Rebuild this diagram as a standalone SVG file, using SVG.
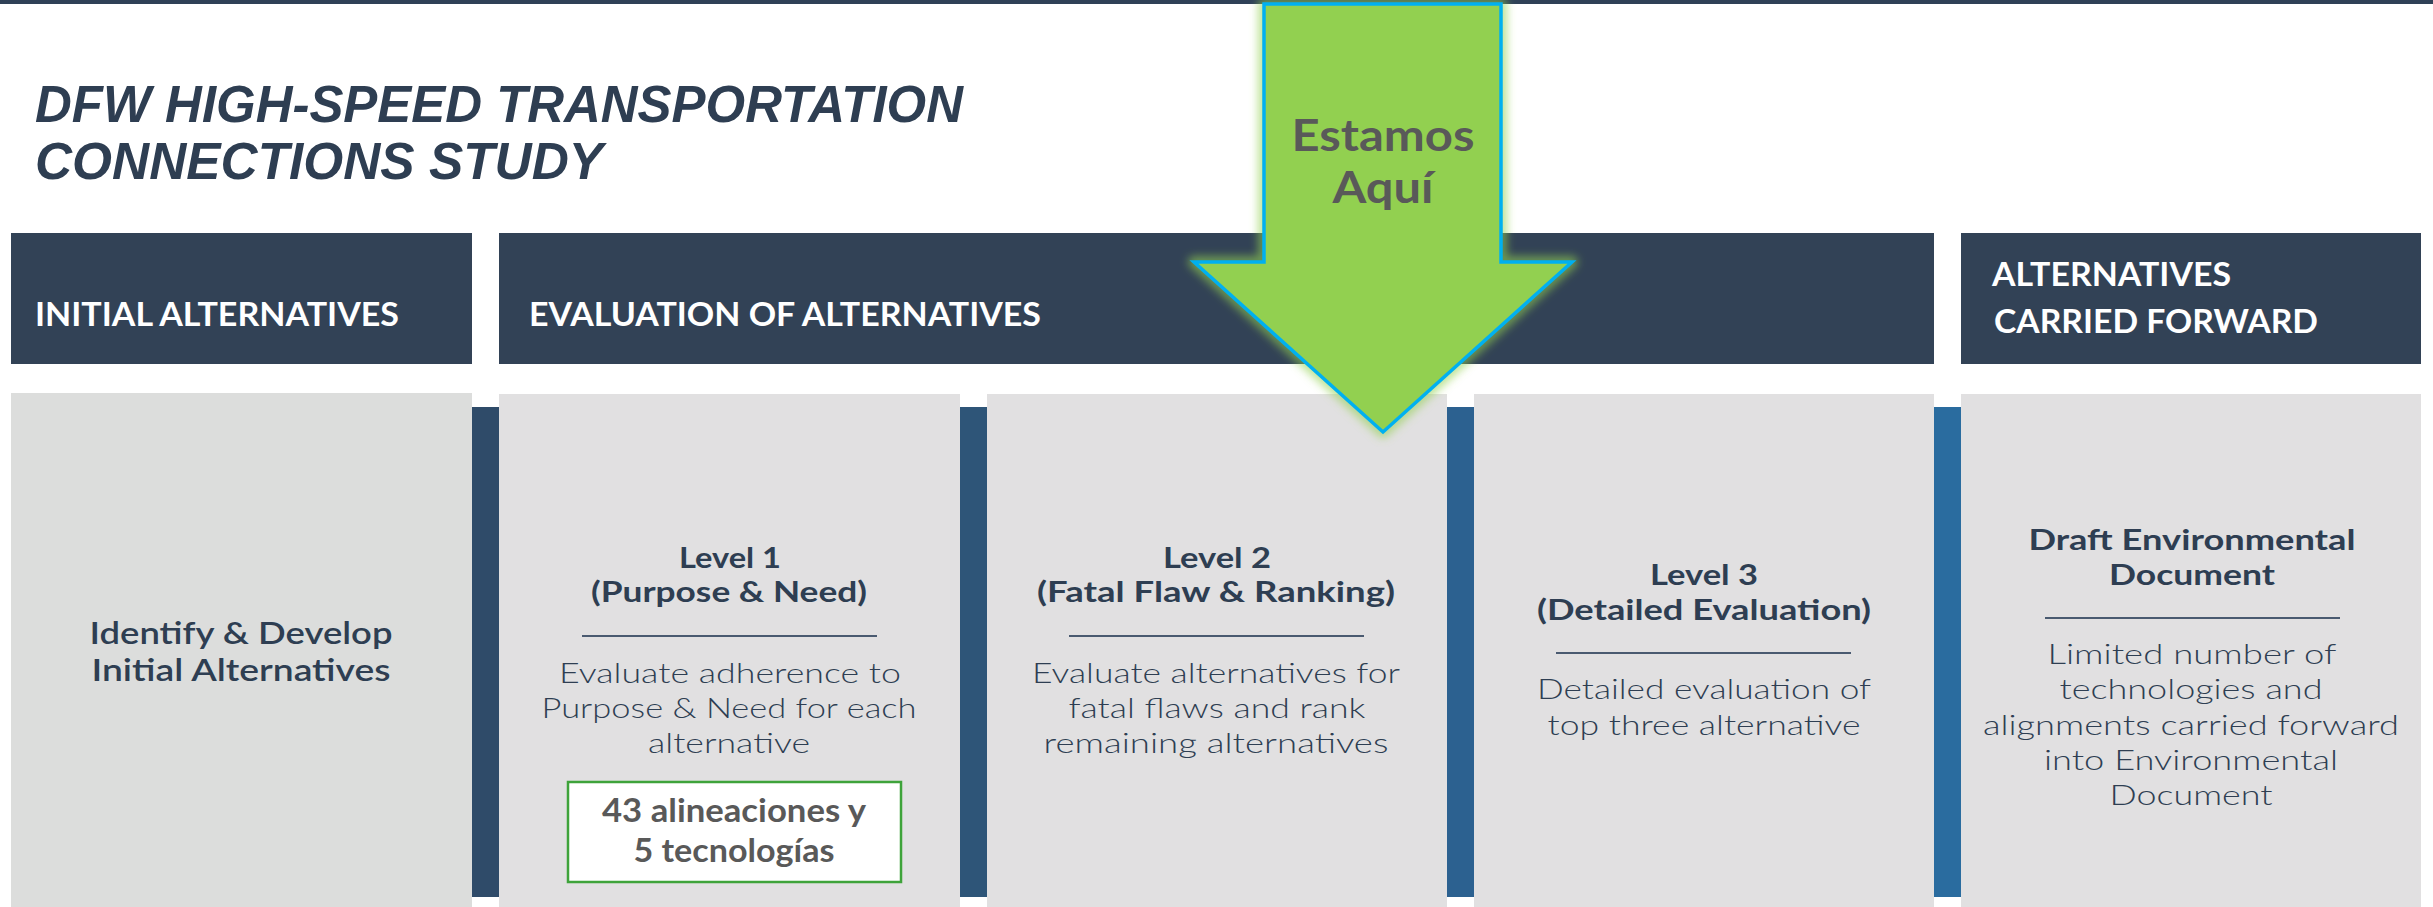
<svg xmlns="http://www.w3.org/2000/svg" width="2433" height="907" viewBox="0 0 2433 907">
<style>
.hdr{fill:#324256}
.hdrtxt{font-family:"Lato","Liberation Sans",sans-serif;font-weight:700;font-size:32px;fill:#ffffff}
.panel{fill:#e1e0e1}
.head{font-family:"Lato","Liberation Sans",sans-serif;font-weight:700;font-size:29px;fill:#2e3e52;text-anchor:middle}
.body{font-family:"Lato","Liberation Sans",sans-serif;font-weight:300;font-size:28px;fill:#2e3e52;text-anchor:middle}
.sep{stroke:#4a5a70;stroke-width:2}
.callout{font-family:"Lato","Liberation Sans",sans-serif;font-weight:700;fill:#595959;text-anchor:middle}
.title{font-family:"Liberation Sans",sans-serif;font-weight:700;font-style:italic;font-size:52px;fill:#2e3e52}
</style>
<defs>
<filter id="glow" x="-20%" y="-20%" width="140%" height="140%">
<feGaussianBlur stdDeviation="4"/>
</filter>
</defs>
<rect x="0" y="0" width="2433" height="907" fill="#ffffff"/>
<rect x="0" y="0" width="2433" height="4" fill="#2f4157"/>

<g id="title">
<text class="title" x="35" y="122" textLength="928" lengthAdjust="spacingAndGlyphs">DFW HIGH-SPEED TRANSPORTATION</text>
<text class="title" x="35" y="179" textLength="568" lengthAdjust="spacingAndGlyphs">CONNECTIONS STUDY</text>
</g>

<g id="header-initial">
<rect class="hdr" x="11" y="233" width="461" height="131"/>
<text class="hdrtxt" x="35" y="326" textLength="364" lengthAdjust="spacingAndGlyphs">INITIAL ALTERNATIVES</text>
</g>
<g id="header-evaluation">
<rect class="hdr" x="499" y="233" width="1435" height="131"/>
<text class="hdrtxt" x="529" y="326" textLength="512" lengthAdjust="spacingAndGlyphs">EVALUATION OF ALTERNATIVES</text>
</g>
<g id="header-forward">
<rect class="hdr" x="1961" y="233" width="460" height="131"/>
<text class="hdrtxt" x="1992" y="286" textLength="239" lengthAdjust="spacingAndGlyphs">ALTERNATIVES</text>
<text class="hdrtxt" x="1994" y="333" textLength="324" lengthAdjust="spacingAndGlyphs">CARRIED FORWARD</text>
</g>

<g id="connectors">
<rect x="472" y="407" width="27" height="490" fill="#2f4b69"/>
<rect x="960" y="407" width="27" height="490" fill="#2e5578"/>
<rect x="1447" y="407" width="27" height="490" fill="#2c6190"/>
<rect x="1934" y="407" width="27" height="490" fill="#2a6c9f"/>
</g>

<g id="panel-initial">
<rect x="11" y="393" width="461" height="514" fill="#dcdddc"/>
<text class="head" style="font-weight:600;font-size:30px" x="241" y="644" textLength="303" lengthAdjust="spacingAndGlyphs">Identify &amp; Develop</text>
<text class="head" style="font-weight:600;font-size:30px" x="241" y="681" textLength="299" lengthAdjust="spacingAndGlyphs">Initial Alternatives</text>
</g>

<g id="panel-level1">
<rect class="panel" x="499" y="394" width="461" height="513"/>
<text class="head" x="730" y="568" textLength="102" lengthAdjust="spacingAndGlyphs">Level 1</text>
<text class="head" x="729" y="602" textLength="276" lengthAdjust="spacingAndGlyphs">(Purpose &amp; Need)</text>
<line class="sep" x1="582" y1="636" x2="877" y2="636"/>
<text class="body" x="730" y="683" textLength="342" lengthAdjust="spacingAndGlyphs">Evaluate adherence to</text>
<text class="body" x="729" y="718" textLength="375" lengthAdjust="spacingAndGlyphs">Purpose &amp; Need for each</text>
<text class="body" x="729" y="753" textLength="162" lengthAdjust="spacingAndGlyphs">alternative</text>
</g>

<g id="callout-count">
<rect x="568" y="782" width="333" height="100" fill="#ffffff" stroke="#3ea33a" stroke-width="2.5"/>
<text class="callout" style="font-size:33px" x="734" y="822" textLength="264" lengthAdjust="spacingAndGlyphs">43 alineaciones y</text>
<text class="callout" style="font-size:33px" x="734" y="862" textLength="201" lengthAdjust="spacingAndGlyphs">5 tecnologías</text>
</g>

<g id="panel-level2">
<rect class="panel" x="987" y="394" width="460" height="513"/>
<text class="head" x="1217" y="568" textLength="108" lengthAdjust="spacingAndGlyphs">Level 2</text>
<text class="head" x="1216" y="602" textLength="358" lengthAdjust="spacingAndGlyphs">(Fatal Flaw &amp; Ranking)</text>
<line class="sep" x1="1069" y1="636" x2="1364" y2="636"/>
<text class="body" x="1216" y="683" textLength="368" lengthAdjust="spacingAndGlyphs">Evaluate alternatives for</text>
<text class="body" x="1217" y="718" textLength="297" lengthAdjust="spacingAndGlyphs">fatal flaws and rank</text>
<text class="body" x="1216" y="753" textLength="345" lengthAdjust="spacingAndGlyphs">remaining alternatives</text>
</g>

<g id="panel-level3">
<rect class="panel" x="1474" y="394" width="460" height="513"/>
<text class="head" x="1704" y="585" textLength="108" lengthAdjust="spacingAndGlyphs">Level 3</text>
<text class="head" x="1704" y="620" textLength="334" lengthAdjust="spacingAndGlyphs">(Detailed Evaluation)</text>
<line class="sep" x1="1556" y1="653" x2="1851" y2="653"/>
<text class="body" x="1704" y="699" textLength="334" lengthAdjust="spacingAndGlyphs">Detailed evaluation of</text>
<text class="body" x="1704" y="735" textLength="313" lengthAdjust="spacingAndGlyphs">top three alternative</text>
</g>

<g id="panel-draft">
<rect class="panel" x="1961" y="394" width="460" height="513"/>
<text class="head" x="2192" y="550" textLength="327" lengthAdjust="spacingAndGlyphs">Draft Environmental</text>
<text class="head" x="2192" y="585" textLength="166" lengthAdjust="spacingAndGlyphs">Document</text>
<line class="sep" x1="2045" y1="618" x2="2340" y2="618"/>
<text class="body" x="2192" y="664" textLength="289" lengthAdjust="spacingAndGlyphs">Limited number of</text>
<text class="body" x="2191" y="699" textLength="263" lengthAdjust="spacingAndGlyphs">technologies and</text>
<text class="body" x="2191" y="735" textLength="416" lengthAdjust="spacingAndGlyphs">alignments carried forward</text>
<text class="body" x="2191" y="770" textLength="294" lengthAdjust="spacingAndGlyphs">into Environmental</text>
<text class="body" x="2191" y="805" textLength="163" lengthAdjust="spacingAndGlyphs">Document</text>
</g>

<g id="arrow-here">
<polygon points="1264,4 1501,4 1501,262 1572,262 1383,432 1194,262 1264,262" fill="none" stroke="#92d050" stroke-width="12" stroke-opacity="0.6" stroke-linejoin="round" filter="url(#glow)"/>
<polygon points="1264,4 1501,4 1501,262 1572,262 1383,432 1194,262 1264,262" fill="#92d050" stroke="#00b0f0" stroke-width="3.5"/>
<text class="callout" style="font-size:43px" x="1383" y="151" textLength="183" lengthAdjust="spacingAndGlyphs">Estamos</text>
<text class="callout" style="font-size:43px" x="1383" y="203" textLength="101" lengthAdjust="spacingAndGlyphs">Aquí</text>
</g>
</svg>
